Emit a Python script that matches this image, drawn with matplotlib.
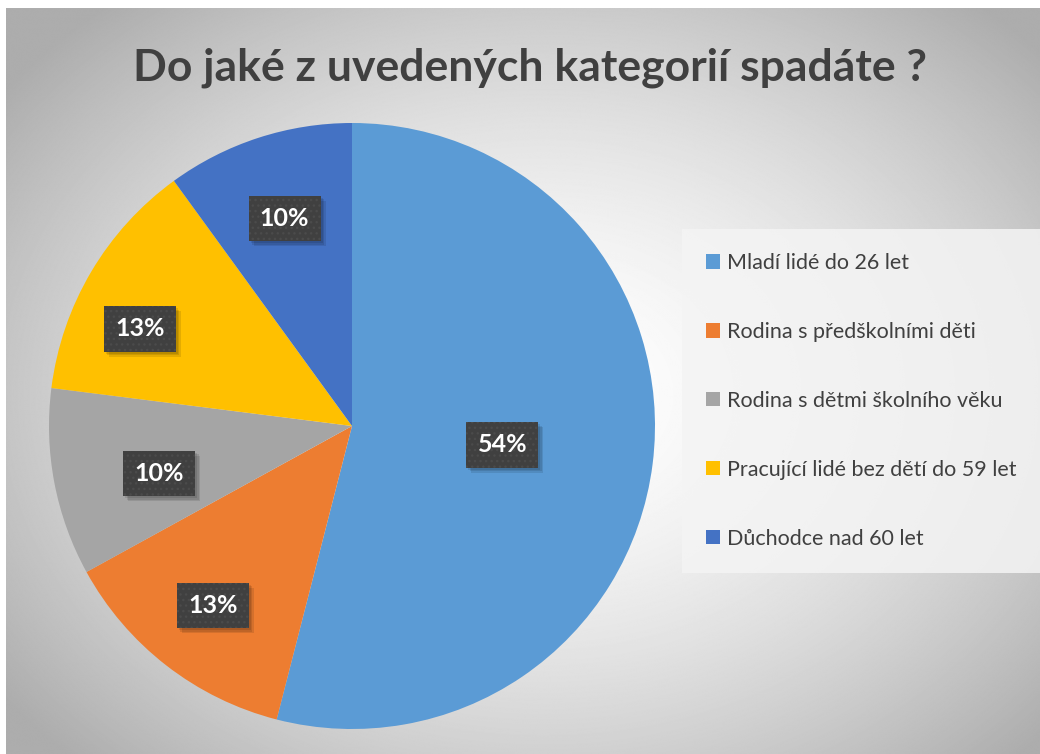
from matplotlib import pyplot as plt
from matplotlib.patches import Patch, Rectangle
from matplotlib.transforms import IdentityTransform
import numpy as np

plt.rcParams['font.family'] = ['Lato', 'DejaVu Sans']

title = "Do jaké z uvedených kategorií spadáte ?"
categories = ["Mladí lidé do 26 let",
              "Rodina s předškolními děti",
              "Rodina s dětmi školního věku",
              "Pracující lidé bez dětí do 59 let",
              "Důchodce nad 60 let"]
shares = [54, 13, 10, 13, 10]
colors = ["#5B9BD5", "#ED7D31", "#A5A5A5", "#FFC000", "#4472C4"]
# placement of each percentage box: fraction of radius, turn off wedge middle (deg)
label_r = [0.50, 0.75, 0.655, 0.77, 0.72]
label_turn = [0, 0, 3, 6, 0]

W, H = 1040, 754
fig = plt.figure(figsize=(W / 100, H / 100), dpi=100)
fig.patch.set_facecolor("white")

# grey radial gradient behind the chart
bg = fig.add_axes([6 / W, 0, 1 - 6 / W, 1 - 8 / H])
yy, xx = np.mgrid[0:H, 0:W]
r = np.hypot((xx - 540) / 560, (yy - 390) / 430)
shade = 1 - 0.24 * np.clip(r, 0, 1.2) ** 1.6
bg.imshow(shade, cmap="gray", vmin=0, vmax=1, aspect="auto",
          extent=[0, 1, 0, 1], interpolation="bilinear")
bg.set_axis_off()

cx, cy, rad = 352, 426, 303
ax = fig.add_axes([(cx - rad) / W, (H - cy - rad) / H, 2 * rad / W, 2 * rad / H])
wedges, _ = ax.pie(shares, colors=colors, startangle=90, counterclock=False,
                   radius=1, wedgeprops=dict(linewidth=0))
ax.set_xlim(-1, 1)
ax.set_ylim(-1, 1)
ax.set_axis_off()

labels = []
for w, v, lr, turn in zip(wedges, shares, label_r, label_turn):
    mid = np.deg2rad((w.theta1 + w.theta2) / 2 + turn)
    t = ax.text(lr * np.cos(mid), lr * np.sin(mid), f"{v}%",
                ha="center", va="center", color="white",
                fontsize=18, fontweight="bold", zorder=5,
                bbox=dict(boxstyle="square,pad=0.45", fc="#404040",
                          ec="#4b4b4b", lw=0, hatch="..."))
    labels.append(t)

fig.text(530 / W, 1 - 68 / H, title, ha="center", va="center",
         fontsize=32, fontweight="bold", color="#404040")

handles = [Patch(facecolor=c, edgecolor="none") for c in colors]
leg = fig.legend(handles, categories, loc="upper left",
                 bbox_to_anchor=(682 / W, 1 - 229 / H), borderaxespad=0,
                 fontsize=15.5, labelspacing=2.27, borderpad=1.12,
                 handlelength=0.65, handleheight=0.65, handletextpad=0.3,
                 frameon=True, fancybox=False, labelcolor="#404040")
leg.get_frame().set_facecolor("#f4f4f4")
leg.get_frame().set_alpha(0.85)
leg.get_frame().set_edgecolor("none")

# soft drop shadow under each label box, in pixel coordinates
fig.canvas.draw()
for t in labels:
    bb = t.get_bbox_patch().get_window_extent()
    for d in (2, 3.5, 5):
        ax.add_patch(Rectangle((bb.x0 + d, bb.y0 - d), bb.width, bb.height,
                               transform=IdentityTransform(), fc="black",
                               alpha=0.10, lw=0, zorder=4))

fig.savefig("out.png", dpi=100)
